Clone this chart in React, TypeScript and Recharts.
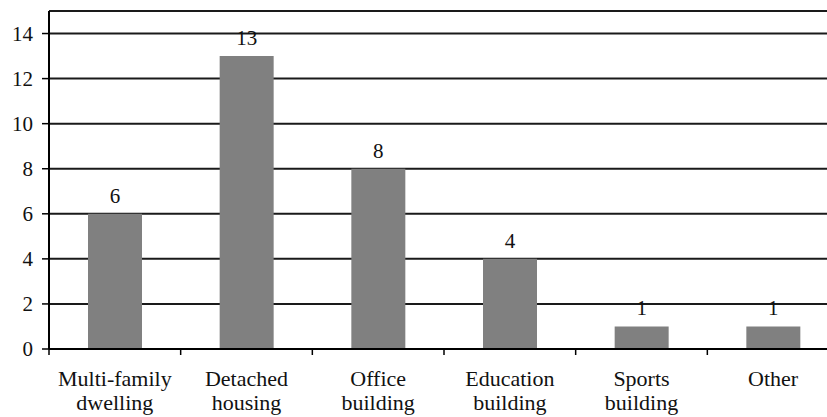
import React from 'react';
import { BarChart, Bar, XAxis, YAxis, CartesianGrid, ReferenceLine, LabelList } from 'recharts';

// building types (line breaks as in the original axis labels)
const categories = [
  'Multi-family\ndwelling',
  'Detached\nhousing',
  'Office\nbuilding',
  'Education\nbuilding',
  'Sports\nbuilding',
  'Other',
];
const counts = [6, 13, 8, 4, 1, 1];
const yTicks = [0, 2, 4, 6, 8, 10, 12, 14];
const yMax = 15;

const data = categories.map((name, i) => ({ name, value: counts[i] }));

const FONT = '"Times New Roman", "Liberation Serif", serif';
const CHART_W = 840;
const CHART_H = 417;
const Y_AXIS_W = 49;
const MARGIN = { top: 11, right: 1, left: 0, bottom: 0 };
const BAND = (CHART_W - Y_AXIS_W - MARGIN.left - MARGIN.right) / categories.length;

const CategoryTick = (props: any) => {
  const { x, y, payload } = props;
  const half = payload && payload.offset ? payload.offset : BAND / 2;
  const lines = String(payload.value).split('\n');
  return (
    <g>
      <line x1={x - half} x2={x - half} y1={y - 6} y2={y} stroke="#000" strokeWidth={1.5} />
      <text x={x} y={y} textAnchor="middle" style={{ fontFamily: FONT, fontSize: 22 }} fill="#111">
        {lines.map((l, i) => (
          <tspan key={i} x={x} dy={i === 0 ? 31 : 24}>
            {l}
          </tspan>
        ))}
      </text>
    </g>
  );
};

export default function App() {
  return (
    <div style={{ position: 'absolute', left: 0, top: 0, width: 827, height: 417, overflow: 'hidden', background: '#fff', fontFamily: FONT }}>
      <BarChart width={CHART_W} height={CHART_H} data={data} margin={MARGIN} barSize={54} style={{ fontFamily: FONT }}>
        <CartesianGrid horizontal vertical={false} stroke="#1a1a1a" strokeWidth={2} />
        <ReferenceLine y={yMax} stroke="#1a1a1a" strokeWidth={2} />
        <XAxis
          dataKey="name"
          interval={0}
          height={68}
          axisLine={{ stroke: '#000', strokeWidth: 2 }}
          tickLine={false}
          tickSize={6}
          tickMargin={0}
          tick={<CategoryTick />}
        />
        <YAxis
          width={Y_AXIS_W}
          domain={[0, yMax]}
          ticks={yTicks}
          interval={0}
          axisLine={{ stroke: '#000', strokeWidth: 2 }}
          tickLine={{ stroke: '#000', strokeWidth: 1.5 }}
          tickSize={7}
          tickMargin={9}
          tick={{ fontFamily: FONT, fontSize: 21, fill: '#111' }}
        />
        <Bar dataKey="value" fill="#808080" isAnimationActive={false}>
          <LabelList dataKey="value" position="top" offset={11} style={{ fontFamily: FONT, fontSize: 21 }} fill="#111" />
        </Bar>
      </BarChart>
    </div>
  );
}
